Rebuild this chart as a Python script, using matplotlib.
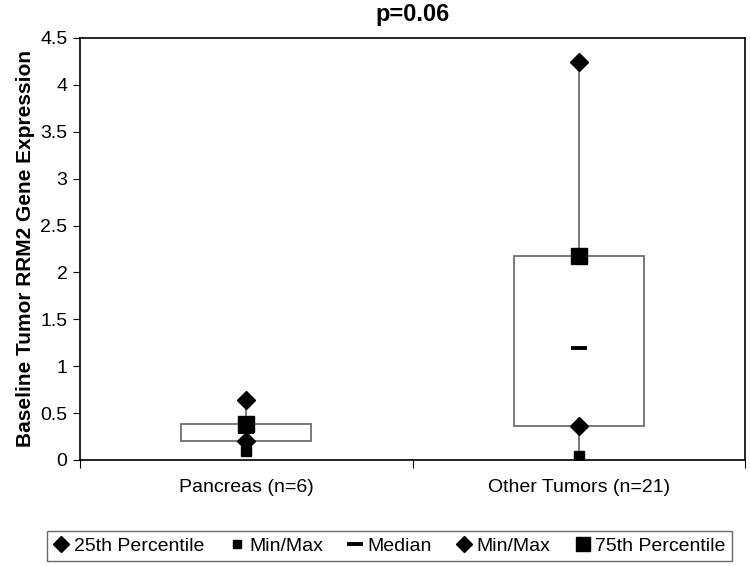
import matplotlib
matplotlib.use("Agg")
import matplotlib.pyplot as plt
from matplotlib.lines import Line2D

plt.rcParams['font.family'] = ['Liberation Sans', 'DejaVu Sans']

categories = ["Pancreas (n=6)", "Other Tumors (n=21)"]
p25 = [0.20, 0.36]
p75 = [0.38, 2.17]
median = [0.30, 1.19]
vmin = [0.10, 0.04]
vmax = [0.64, 4.24]
yticks = [0, 0.5, 1, 1.5, 2, 2.5, 3, 3.5, 4, 4.5]
ytick_labels = ["0", "0.5", "1", "1.5", "2", "2.5", "3", "3.5", "4", "4.5"]

fig = plt.figure(figsize=(7.5, 5.66), dpi=100)
ax = fig.add_axes([0.1067, 0.1873, 0.8866, 0.7456])

xs = list(range(len(categories)))
box_w = 0.39
gray = "#6e6e6e"
for x, lo, hi, mn, mx in zip(xs, p25, p75, vmin, vmax):
    ax.plot([x, x], [mn, mx], color=gray, lw=1.3, zorder=1)
    ax.bar(x, hi - lo, bottom=lo, width=box_w, facecolor="white",
           edgecolor=gray, linewidth=1.3, zorder=2)

ax.plot(xs, p25, linestyle="none", marker="D", ms=9.5, color="black", zorder=4)
ax.plot(xs, vmin, linestyle="none", marker="s", ms=6.5, color="black", zorder=4)
ax.plot(xs, median, linestyle="none", marker="_", ms=12, mew=2.8, color="black", zorder=4)
ax.plot(xs, vmax, linestyle="none", marker="D", ms=9.5, color="black", zorder=4)
ax.plot(xs, p75, linestyle="none", marker="s", ms=11.5, color="black", zorder=5)

fs = 14
ax.set_xlim(-0.5, 1.5)
ax.set_ylim(0, 4.5)
ax.set_yticks(yticks)
ax.set_yticklabels(ytick_labels, fontsize=fs)
ax.set_xticks([-0.5, 0.5, 1.5])
ax.set_xticklabels([])
ax.set_xticks(xs, minor=True)
ax.set_xticklabels(categories, minor=True, fontsize=fs)
ax.tick_params(axis="x", which="major", direction="out", length=6, color="black")
ax.tick_params(axis="x", which="minor", length=0, pad=14)
ax.tick_params(axis="y", direction="out", length=5, pad=4)
for s in ax.spines.values():
    s.set_linewidth(1.2)
    s.set_color("black")

ax.set_ylabel("Baseline Tumor RRM2 Gene Expression", fontsize=15,
              fontweight="bold", labelpad=4)
ax.set_title("p=0.06", fontsize=17, fontweight="bold", pad=12)

handles = [
    Line2D([], [], linestyle="none", marker="D", ms=8, color="black"),
    Line2D([], [], linestyle="none", marker="s", ms=6, color="black"),
    Line2D([], [], linestyle="none", marker="_", ms=11, mew=2.8, color="black"),
    Line2D([], [], linestyle="none", marker="D", ms=8, color="black"),
    Line2D([], [], linestyle="none", marker="s", ms=10, color="black"),
]
labels = ["25th Percentile", "Min/Max", "Median", "Min/Max", "75th Percentile"]
leg = fig.legend(handles, labels, loc="center", bbox_to_anchor=(0.519, 0.0355),
                 ncol=5, fontsize=fs, frameon=True, fancybox=False,
                 handlelength=0.9, handletextpad=0.2, columnspacing=1.2,
                 borderpad=0.3, edgecolor="#444444")
leg.get_frame().set_linewidth(1.0)

fig.savefig("out.png", dpi=100)
